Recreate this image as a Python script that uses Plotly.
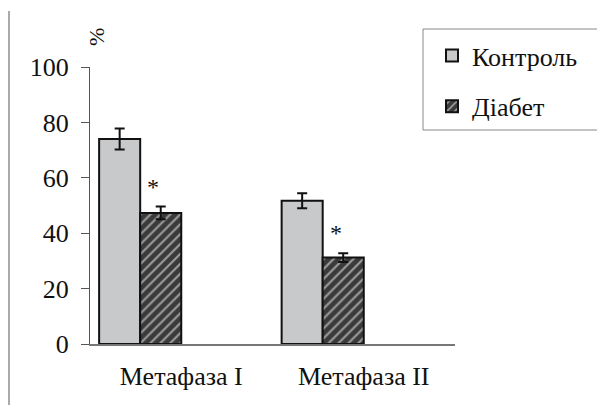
import plotly.graph_objects as go

categories = ["Метафаза I", "Метафаза II"]
series_names = ["Контроль", "Діабет"]
control_values = [74.0, 51.7]
control_errors = [3.8, 2.7]
diabetes_values = [47.3, 31.2]
diabetes_errors = [2.3, 1.6]
significance = ["*", "*"]
y_ticks = [0, 20, 40, 60, 80, 100]

FONT = "Liberation Serif"
FS = 26
OX, OY = 8, 8  # page body margin
W, H = 597, 397
L, T = 90 - OX, 67 - OY
pw, ph = 365, 277
R, B = W - L - pw, H - T - ph

def px_x(sx):
    return (sx - OX - L) / pw

def px_y(sy):
    return (T + ph - (sy - OY)) / ph

xpos = list(range(len(categories)))
bar_w = 0.225
off_c, off_d = -0.3375, -0.1125

fig = go.Figure()
fig.add_trace(go.Bar(
    name=series_names[0], legendgroup="a",
    x=[p + off_c for p in xpos], y=control_values, width=bar_w,
    marker=dict(color="#c8c9cb", line=dict(color="#111111", width=2)),
    error_y=dict(type="data", array=control_errors, visible=True,
                 color="#111111", thickness=2, width=5),
))
fig.add_trace(go.Bar(
    name=series_names[1], legendgroup="b",
    x=[p + off_d for p in xpos], y=diabetes_values, width=bar_w,
    marker=dict(color="#3a3a3a", line=dict(color="#111111", width=2),
                pattern=dict(shape="/", fgcolor="white", bgcolor="#3a3a3a",
                             size=7, solidity=0.3)),
    error_y=dict(type="data", array=diabetes_errors, visible=True,
                 color="#111111", thickness=2, width=5),
))

annotations = []
for p, v, e, s in zip(xpos, diabetes_values, diabetes_errors, significance):
    annotations.append(dict(x=p + off_d - 0.04, y=v + e + 7.2, xref="x", yref="y",
                            text=s, showarrow=False, xanchor="center", yanchor="middle",
                            font=dict(family=FONT, size=24, color="#111111")))
annotations.append(dict(x=px_x(96), y=px_y(37), xref="paper", yref="paper",
                        text="%", textangle=-90, showarrow=False,
                        xanchor="center", yanchor="middle",
                        font=dict(family=FONT, size=22, color="#111111")))

shapes = [
    dict(type="line", xref="paper", yref="paper",
         x0=px_x(9), x1=px_x(9), y0=px_y(410), y1=px_y(11),
         line=dict(color="#555555", width=1)),
    dict(type="rect", xref="paper", yref="paper",
         x0=px_x(423), x1=px_x(599), y0=px_y(130), y1=px_y(29),
         line=dict(color="#888888", width=1), fillcolor="rgba(0,0,0,0)"),
]

fig.update_layout(
    width=W, height=H,
    margin=dict(l=L, r=R, t=T, b=B),
    paper_bgcolor="white", plot_bgcolor="white",
    font=dict(family=FONT, size=FS, color="#111111"),
    barmode="overlay",
    showlegend=True,
    legend=dict(x=px_x(432), xanchor="left", y=px_y(32), yanchor="top",
                bgcolor="rgba(0,0,0,0)", borderwidth=0, tracegroupgap=14,
                traceorder="grouped", font=dict(family=FONT, size=FS, color="#111111")),
    xaxis=dict(range=[-0.5, 1.5], tickvals=xpos, ticktext=categories,
               showline=True, linecolor="#777777", linewidth=1.5,
               ticks="", showgrid=False, zeroline=False, ticklabelstandoff=8,
               tickfont=dict(family=FONT, size=FS, color="#111111")),
    yaxis=dict(range=[0, 100], tickvals=y_ticks, showline=True, linecolor="#555555",
               linewidth=1, ticks="outside", ticklen=8, tickcolor="#555555",
               showgrid=False, zeroline=False, ticklabelstandoff=7,
               tickfont=dict(family=FONT, size=FS, color="#111111")),
    annotations=annotations,
    shapes=shapes,
)

fig.write_html("out.html")
